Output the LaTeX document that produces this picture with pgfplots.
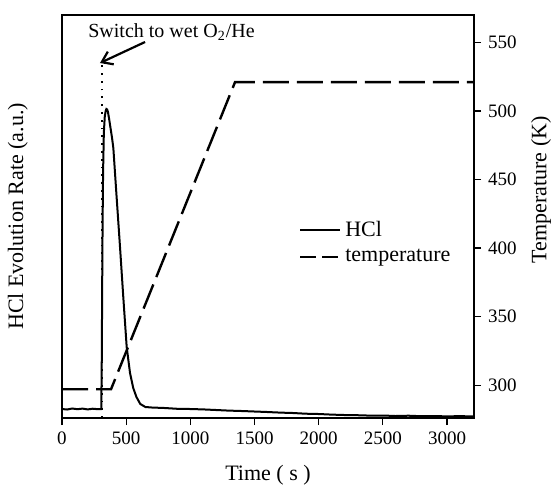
\documentclass[border=0pt]{standalone}
\usepackage{fontspec}
\setmainfont{Liberation Serif}
\usepackage{pgfplots}
\pgfplotsset{compat=1.18}
\usetikzlibrary{arrows.meta}
\begin{document}
\begin{tikzpicture}
\pgfplotsset{
 common/.style={
  width=206pt, height=201.5pt, scale only axis,
  xmin=0, xmax=3210,
  at={(0,0)}, anchor=south west,
  tick align=outside,
  major tick length=3.5pt,
  axis line style={line width=0.8pt},
  tick style={line width=0.6pt, black},
  /pgf/number format/assume math mode=true,
  /pgf/number format/1000 sep={},
  scaled ticks=false,
  ticklabel style={font=\fontsize{9.5}{11}\selectfont},
  label style={font=\fontsize{11}{13}\selectfont},
 }
}
\begin{axis}[common, name=ax, ymin=0, ymax=403, ytick=\empty,
 xtick={0,500,...,3000}, xtick pos=bottom,
 xlabel={Time ( s )}, ylabel={HCl Evolution Rate (a.u.)},
 ylabel style={at={(axis description cs:-0.107,0.5)}, anchor=center},
 xlabel style={at={(axis description cs:0.5,-0.141)}, anchor=center}]
\addplot[black, line width=1pt] coordinates {
(0,9) (40,8.5) (80,9.5) (120,8.8) (160,9.4) (200,8.6) (240,9.3) (280,8.8) (306,9)
(310,60) (313,130) (316,190) (320,245) (326,285) (333,301) (340,307) (346,309)
(352,308.5) (358,306) (366,300) (378,290) (390,280) (400,270) (425,222) (452,171) (478,120)
(504,71) (530,45) (555,30) (580,21) (610,14) (650,11) (700,10.5)
(800,10) (900,9.2) (1000,9) (1100,8.6) (1200,8) (1300,7.4) (1400,7) (1500,6.5)
(1600,6) (1700,5.4) (1800,5) (1900,4.3) (2000,4) (2100,3.4) (2200,3) (2300,2.8)
(2400,2.4) (2500,2.5) (2600,2) (2700,2.3) (2800,1.8) (2900,2) (3000,1.6) (3100,1.9) (3210,1.5)
};
\addplot[black, line width=1pt, dash pattern=on 0.9pt off 3pt] coordinates {(309,0) (309,355)};
\draw[line width=1.1pt, -{Straight Barb[length=5pt,width=7pt]}] (axis cs:647,376) -- (axis cs:296,355);
\node[anchor=base, font=\fontsize{10}{12}\selectfont, inner sep=0pt] at (axis cs:853,381) {Switch to wet O\textsubscript{2}/He};
\end{axis}
\begin{axis}[common, ymin=276, ymax=570, axis x line=none, axis y line*=right,
 ytick={300,350,...,550},
 ylabel={Temperature (K)},
 ylabel style={at={(axis description cs:1.163,0.566)}, anchor=center},
 legend style={at={(axis description cs:0.56,0.509)}, anchor=north west, draw=none, fill=none,
   font=\fontsize{11}{13}\selectfont, row sep=1pt},
 legend cell align=left,
 legend image code/.code={\draw[#1] (0cm,0cm) -- (0.7cm,0cm);}]
\addlegendimage{black, line width=1pt}
\addlegendentry{HCl}
\addlegendimage{black, line width=1.2pt, dash pattern=on 8pt off 3pt}
\addlegendentry{temperature}
\addplot[black, line width=1.2pt, dash pattern=on 13pt off 4pt, forget plot] coordinates {(0,297) (382,297) (1348,521) (3210,521)};
\end{axis}
\pgfresetboundingbox
\useasboundingbox ([shift={(-31pt,-35.5pt)}]ax.south west) rectangle ([shift={(246.5pt,209pt)}]ax.south west);
\end{tikzpicture}
\end{document}
